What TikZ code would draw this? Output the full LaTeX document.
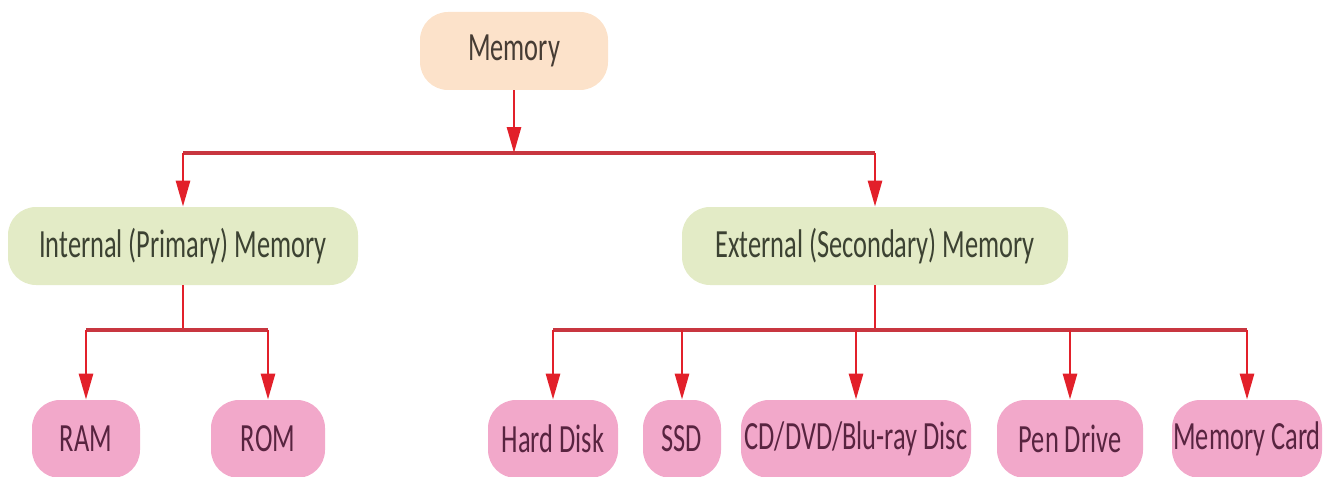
\documentclass[tikz,border=0pt]{standalone}
\usepackage{fontspec}
\setmainfont{Carlito}[FakeStretch=0.66]
\usepackage{tikz}
\usetikzlibrary{arrows, arrows.meta, positioning}
\definecolor{peach}{RGB}{252,226,202}
\definecolor{sage}{RGB}{227,235,198}
\definecolor{rosefill}{RGB}{242,168,202}
\definecolor{toptext}{RGB}{70,60,52}
\definecolor{midtext}{RGB}{60,66,50}
\definecolor{leaftext}{RGB}{88,36,64}
\definecolor{linkred}{RGB}{226,32,42}
\definecolor{busred}{RGB}{200,54,64}
\tikzset{
  box/.style={rounded corners=14pt, minimum height=39pt, inner sep=0pt,
    font=\fontsize{20}{24}\selectfont},
  topbox/.style={box, fill=peach, text=toptext},
  midbox/.style={box, fill=sage, text=midtext},
  leafbox/.style={box, fill=rosefill, text=leaftext},
  link/.style={draw=linkred, line width=1.4pt},
  bus/.style={draw=busred, line width=2.4pt},
}

\begin{document}
\begin{tikzpicture}[x=0.5pt, y=-0.5pt, >={Triangle[length=13pt, width=7pt]}]
\useasboundingbox (0,0) rectangle (1336,476);

\node[topbox, minimum width=94pt] (mem) at (514,51) {Memory};

\node[midbox, minimum width=175pt] (intm) at (183,246) {Internal (Primary) Memory};
\node[midbox, minimum width=193pt] (extm) at (875,246) {External (Secondary) Memory};

\node[leafbox, minimum width=54pt] (ram) at (86,439) {RAM};
\node[leafbox, minimum width=57pt] (rom) at (268,439) {ROM};
\node[leafbox, minimum width=65pt] (hd) at (553,439) {Hard Disk};
\node[leafbox, minimum width=39pt] (ssd) at (682,439) {SSD};
\node[leafbox, minimum width=115pt] (cd) at (856,439) {CD/DVD/Blu-ray Disc};
\node[leafbox, minimum width=73pt] (pen) at (1070,439) {Pen Drive};
\node[leafbox, minimum width=75pt] (mc) at (1247,439) {Memory Card};

\coordinate (bus1) at (0,153);
\coordinate (bus2) at (0,330);

\draw[bus] (intm.north |- bus1) -- (extm.north |- bus1);
\draw[link, ->] (mem) -- (mem |- bus1);
\foreach \n in {intm, extm}
  \draw[link, ->] (\n.north |- bus1) -- (\n);

\draw[link] (intm) -- (intm |- bus2);
\draw[bus] (ram.north |- bus2) -- (rom.north |- bus2);
\foreach \n in {ram, rom}
  \draw[link, ->] (\n.north |- bus2) -- (\n);

\draw[link] (extm) -- (extm |- bus2);
\draw[bus] (hd.north |- bus2) -- (mc.north |- bus2);
\foreach \n in {hd, ssd, cd, pen, mc}
  \draw[link, ->] (\n.north |- bus2) -- (\n);
\end{tikzpicture}
\end{document}
